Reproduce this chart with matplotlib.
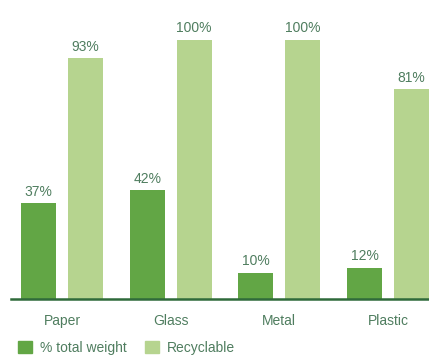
import numpy as np
import matplotlib.pyplot as plt
from matplotlib.patches import Patch

categories = ['Paper', 'Glass', 'Metal', 'Plastic']
weight = [37, 42, 10, 12]        # % total weight
recyclable = [93, 100, 100, 81]  # recyclable %

dark = '#62a645'
light = '#b6d48f'
txt = '#4f7d5f'
axis_col = '#2f6a3a'

plt.rcParams['font.family'] = ['Liberation Sans', 'DejaVu Sans']

fig = plt.figure(figsize=(4.29, 3.56), dpi=100)
ax = fig.add_axes([11/429, 57/356, 418/429, 289/356])

x = np.arange(len(categories))
off = 0.216
w = 0.322
b1 = ax.bar(x - off, weight, w, color=dark)
b2 = ax.bar(x + off, recyclable, w, color=light)

for bars, vals in ((b1, weight), (b2, recyclable)):
    for r, v in zip(bars, vals):
        ax.text(r.get_x() + r.get_width()/2, v + 1.8, f'{v}%', ha='center', va='bottom',
                fontsize=10, color=txt)

ax.set_xlim(-0.469, 418/108.67 - 0.469)
ax.set_ylim(0, 111.6)
for s in ['top', 'right', 'left']:
    ax.spines[s].set_visible(False)
ax.spines['bottom'].set_color(axis_col)
ax.spines['bottom'].set_linewidth(1.8)
ax.set_yticks([])
ax.set_xticks(x)
ax.set_xticklabels(categories, fontsize=10, color=txt)
ax.tick_params(axis='x', length=0, pad=11)

handles = [Patch(color=dark, label='% total weight'), Patch(color=light, label='Recyclable')]
fig.legend(handles=handles, loc='center left', bbox_to_anchor=(18/429, 8/356), ncol=2,
           frameon=False, fontsize=10, labelcolor=txt, handlelength=1.0, handleheight=1.0,
           handletextpad=0.6, columnspacing=1.3, borderaxespad=0, borderpad=0)

fig.savefig('out.png', dpi=100)
